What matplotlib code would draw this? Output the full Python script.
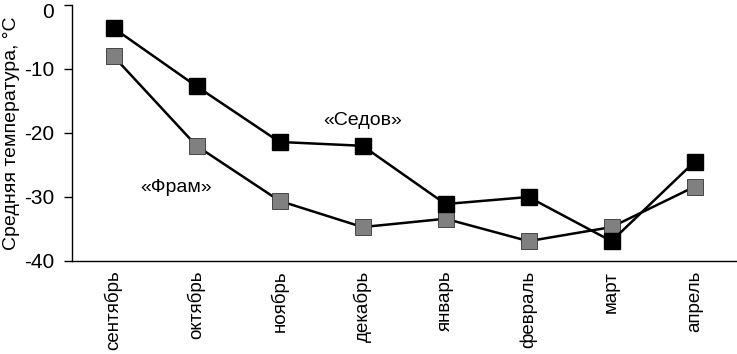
import matplotlib
matplotlib.use('Agg')
import matplotlib.pyplot as plt
from matplotlib.transforms import ScaledTranslation

months = ['сентябрь', 'октябрь', 'ноябрь', 'декабрь', 'январь', 'февраль', 'март', 'апрель']
sedov = [-3.6, -12.7, -21.4, -22.0, -31.1, -30.0, -36.9, -24.5]
fram = [-8.0, -22.0, -30.6, -34.7, -33.4, -36.9, -34.7, -28.4]

plt.rcParams['font.family'] = ['Liberation Sans', 'DejaVu Sans']

fig = plt.figure(figsize=(7.37, 3.54), dpi=100)
ax = fig.add_axes([72 / 737, 93 / 354, 664 / 737, 256 / 354])

x = range(len(months))
ax.plot(x, fram, '-', color='black', lw=1.8, marker='s', ms=11,
        mfc='#808080', mec='#333333', mew=0.6, zorder=2)
ax.plot(x, sedov, '-', color='black', lw=1.8, marker='s', ms=11,
        mfc='black', mec='black', zorder=3)

ax.text(3.0, -18.0, '«Седов»', fontsize=14, ha='center', va='center')
ax.text(0.75, -28.5, '«Фрам»', fontsize=14, ha='center', va='center')

ax.set_xlim(-0.5, 7.5)
ax.set_ylim(-40, 0)
ax.set_yticks([0, -10, -20, -30, -40])
ax.set_yticklabels(['0', '-10', '-20', '-30', '-40'])
ax.set_xticks(list(x))
ax.set_xticklabels(months, rotation=90)
ax.tick_params(axis='y', direction='out', length=6, width=1, pad=7, labelsize=15)
ax.tick_params(axis='x', length=0, pad=7, labelsize=13.5)
ax.set_ylabel('Средняя температура, °C', fontsize=14, labelpad=3)

# the "0" label sits a little lower so it is not cut at the top
for lab in ax.get_yticklabels():
    if lab.get_text() == '0':
        lab.set_transform(lab.get_transform() + ScaledTranslation(0, -4 / 72, fig.dpi_scale_trans))

ax.spines['top'].set_visible(False)
ax.spines['right'].set_visible(False)
ax.spines['left'].set_linewidth(1)
ax.spines['bottom'].set_linewidth(1)
ax.patch.set_alpha(0)

fig.savefig('out.png', dpi=100)
